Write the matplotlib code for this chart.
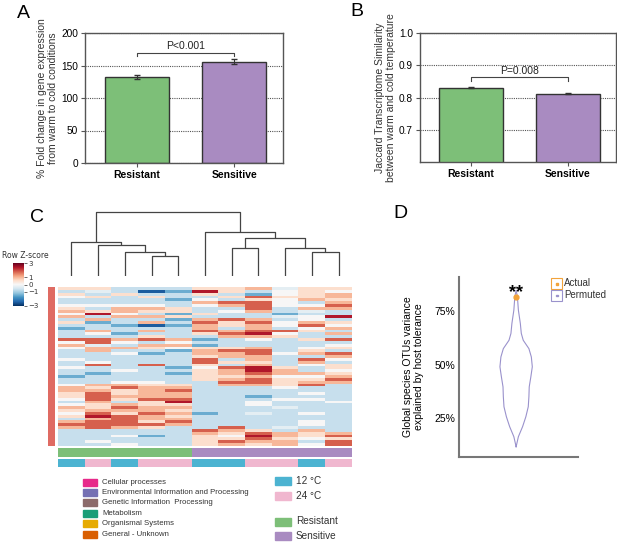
import matplotlib
matplotlib.use('Agg')
import matplotlib.pyplot as plt
from matplotlib.colors import ListedColormap
from matplotlib.patches import Rectangle
import numpy as np

plt.rcParams['font.family'] = ['Liberation Sans', 'DejaVu Sans']

# ---- data ----
groups = ['Resistant', 'Sensitive']
group_colors = ['#7dbf78', '#a98bc1']

# A: % fold change warm -> cold
fold_change = [132, 156]
fold_err = [3, 3.5]

# B: Jaccard similarity
jaccard = [0.830, 0.812]
jaccard_err = [0.002, 0.002]

# C: heatmap (row z-scores), 11 samples, coded per cell
code = {'B': -2.5, 'b': -1.5, 'l': -0.7, 'g': -0.3, 'w': 0.0,
        'p': 0.5, 'P': 1.0, 'r': 1.8, 'R': 2.4}
heat_rows = [
    "pplllppPgpp", "lglBbRplwpw", "plpllplbwpP", "wplpllprppP",
    "llllbwlpwPp", "lllllPrrwlP", "wwwwlwPrwwr", "plPPpllrlPP",
    "PpPpplwPlgl", "wRwlbpllbll", "PlPPplllgwR", "lPllbPrPlwl",
    "pblPlrprwPp", "llbBbPpPwrw", "bllllPlPlwP", "lPlPlrPrrpl",
    "lwbllprRwlP", "lllpllPPpll", "rrPrPblwlpr", "wrwlwllllll",
    "PglPPbllllw", "wPPpwppPlwp", "lPllbPrrlpl", "llwblPPrwPr",
    "lllllpPPllP", "wllllrlPlrw", "lwlllrpplPl", "lrlrlplPlwp",
    "wlllbwrRplp", "llwllpPRPlw", "lbllbpPrPPp", "bllllppPwwP",
    "lllllpPrppr", "llwwllrrpPP", "wPPpplPPprl", "PprPPlllwll",
    "PPpPrllllll", "prpPPllllwl", "prPPPllblll", "wrprrlllwwl",
    "lPlpRllwllw", "wpPppllwlll", "PprPPlllgll", "pPPPpllllll",
    "wrprPblglwl", "pRrPpllllll", "lPrPPllllll", "Prrprllllwl",
    "rrrrPllllwl", "PrPpllrlgll", "lllllrPplPl", "lllllPprPpP",
    "llwblpwRPpr", "lllllpprpwp", "lwlllprPPlr", "llwllpPpPwr",
]
sample_group = [0, 0, 0, 0, 0, 1, 1, 1, 1, 1, 1]
sample_temp = [12, 24, 12, 24, 24, 12, 12, 24, 24, 12, 24]
# dendrogram merges: (left node, right node, height); new nodes numbered from 11
merges = [(3, 4, 20), (2, 11, 24), (1, 12, 31), (0, 13, 34),
          (6, 7, 28), (9, 10, 24), (8, 16, 28), (15, 17, 38),
          (5, 18, 44), (14, 19, 64)]

categories = ['Cellular processes', 'Environmental Information and Processing',
              'Genetic Information  Processing', 'Metabolism',
              'Organismal Systems', 'General - Unknown']
category_colors = ['#e7298a', '#7570b3', '#8c6b6b', '#1b9e77', '#e6ab02', '#d95f02']
temps = [12, 24]
temp_colors = ['#4cb3d1', '#f0b7cf']

# D: permutation violin (value, relative density) and actual value
perm_val = [11.6, 16.3, 21, 25.6, 30.3, 35, 39.6, 44.3, 49, 53.6,
            57.5, 61.4, 64.6, 69.3, 75.5, 81.7, 84.8]
perm_dens = [0, 0.14, 0.40, 0.60, 0.75, 0.79, 0.81, 0.91, 1.0, 0.94,
             0.79, 0.44, 0.32, 0.26, 0.14, 0.08, 0]
actual_val = 81.5

W, H = 617, 542
fig = plt.figure(figsize=(W / 100, H / 100), dpi=100)


def px_axes(x0, y0, x1, y1):
    return fig.add_axes([x0 / W, 1 - y1 / H, (x1 - x0) / W, (y1 - y0) / H])


def bar_panel(ax, vals, errs, ylim, ticks, ylabel, ptext, bracket):
    x = np.arange(len(vals))
    ax.bar(x, vals, width=0.66, color=group_colors, edgecolor='#333333',
           linewidth=1, zorder=2)
    ax.errorbar(x, vals, yerr=errs, fmt='none', ecolor='#333333',
                elinewidth=0.8, capsize=2, zorder=3)
    ax.set_xlim(-0.53, 1.5)
    ax.set_ylim(*ylim)
    ax.set_yticks(ticks)
    ax.set_xticks(x)
    ax.set_xticklabels(groups, fontweight='bold', fontsize=7.5)
    ax.tick_params(axis='y', labelsize=7.3, length=3, color='#555555', pad=2)
    ax.tick_params(axis='x', length=3, color='#555555', pad=2)
    ax.yaxis.grid(True, linestyle=(0, (1, 1)), color='#555555', linewidth=0.8)
    ax.set_axisbelow(True)
    for s in ax.spines.values():
        s.set_color('#555555')
        s.set_linewidth(1)
    ax.set_ylabel(ylabel, fontsize=7.5, color='#333333', labelpad=2)
    top, drop = bracket
    ax.plot([0, 0, 1, 1], [top - drop, top, top, top - drop],
            color='#444444', linewidth=0.8)
    ax.text(0.5, top + drop * 0.4, ptext, ha='center', va='bottom',
            fontsize=7.5, color='#222222')


# ---- A ----
axA = px_axes(85, 33, 283, 163)
bar_panel(axA, fold_change, fold_err, (0, 200), [0, 50, 100, 150, 200],
          '% Fold change in gene expression\nfrom warm to cold conditions',
          'P<0.001', (170, 5))
fig.text(17 / W, 1 - 14 / H, 'A', fontsize=14, va='center', ha='left')

# ---- B ----
axB = px_axes(420, 33, 616, 162)
bar_panel(axB, jaccard, jaccard_err, (0.6, 1.0), [0.7, 0.8, 0.9, 1.0],
          'Jaccard Transcriptome Similarity\nbetween warm and cold temperature',
          'P=0.008', (0.8626, 0.01))
fig.text(350 / W, 1 - 12 / H, 'B', fontsize=14, va='center', ha='left')

# ---- C ----
heat = np.array([[code[c] for c in row] for row in heat_rows])
n_rows, n_cols = heat.shape

axH = px_axes(58, 287, 352, 446)
im = axH.imshow(heat, cmap='RdBu_r', vmin=-3, vmax=3, aspect='auto',
                interpolation='nearest')
axH.set_axis_off()

# dendrogram
axDen = px_axes(58, 205, 352, 276)
pos = {i: float(i) for i in range(n_cols)}
hgt = {i: 0.0 for i in range(n_cols)}
for k, (a, b, h) in enumerate(merges):
    axDen.plot([pos[a], pos[a], pos[b], pos[b]], [hgt[a], h, h, hgt[b]],
               color='#444444', linewidth=0.9, solid_capstyle='butt')
    node = n_cols + k
    pos[node] = (pos[a] + pos[b]) / 2
    hgt[node] = h
axDen.set_xlim(-0.5, n_cols - 0.5)
axDen.set_ylim(0, 71)
axDen.set_axis_off()

# row annotation strip
axS = px_axes(48, 287, 55, 446)
axS.set_facecolor('#df6b63')
axS.set_xticks([])
axS.set_yticks([])
for s in axS.spines.values():
    s.set_visible(False)

# group and temperature column bars
axG = px_axes(58, 448, 352, 457)
axG.imshow([sample_group], cmap=ListedColormap(group_colors), aspect='auto',
           vmin=0, vmax=1, interpolation='nearest')
axG.set_axis_off()
axT = px_axes(58, 459, 352, 467)
axT.imshow([[temps.index(t) for t in sample_temp]],
           cmap=ListedColormap(temp_colors), aspect='auto', vmin=0, vmax=1,
           interpolation='nearest')
axT.set_axis_off()

# colour key
cax = px_axes(13, 263, 24, 306)
cb = fig.colorbar(im, cax=cax, ticks=[3, 1, 0, -1, -3])
cb.outline.set_visible(False)
cax.tick_params(labelsize=5, length=2, width=0.5, pad=1, colors='#333333')
for t in cax.get_yticklabels():
    t.set_family('DejaVu Sans')
fig.text(2 / W, 1 - 256 / H, 'Row Z-score', fontsize=5.5, family='DejaVu Sans',
         va='center', ha='left', color='#333333')
fig.text(30 / W, 1 - 217 / H, 'C', fontsize=14, va='center', ha='left')

# legends under the heatmap
for i, (lab, col) in enumerate(zip(categories, category_colors)):
    yc = 482 + 10.4 * i
    fig.patches.append(Rectangle((83 / W, 1 - (yc + 3.5) / H), 14 / W, 7 / H,
                                 transform=fig.transFigure, color=col))
    fig.text(102 / W, 1 - yc / H, lab, fontsize=5.6, va='center', ha='left',
             color='#333333')
legend2 = [(f'{t} °C', c) for t, c in zip(temps, temp_colors)]
legend2 += list(zip(groups, group_colors))
for i, (lab, col) in enumerate(legend2):
    yc = [481, 496, 521.5, 536][i]
    fig.patches.append(Rectangle((275 / W, 1 - (yc + 4) / H), 16 / W, 8 / H,
                                 transform=fig.transFigure, color=col))
    fig.text(296 / W, 1 - yc / H, lab, fontsize=7.2, va='center', ha='left',
             color='#333333')

# ---- D ----
axD = px_axes(459, 277, 578, 457)
half = 0.136 * np.array(perm_dens)
axD.plot(np.concatenate([1 - half, (1 + half)[::-1]]),
         np.concatenate([perm_val, perm_val[::-1]]),
         color='#9a92cc', linewidth=0.8)
axD.plot([1], [actual_val], 'o', color='#f2a33a', markersize=3.5)
axD.text(1, actual_val - 2.0, '**', ha='center', va='bottom', fontsize=13,
         fontweight='bold')
axD.set_xlim(0.52, 1.52)
axD.set_ylim(6.8, 91)
axD.set_yticks([25, 50, 75])
axD.set_yticklabels(['25%', '50%', '75%'])
axD.set_xticks([])
axD.tick_params(axis='y', labelsize=7.5, length=0, pad=3)
for side in ['top', 'right']:
    axD.spines[side].set_visible(False)
for side in ['left', 'bottom']:
    axD.spines[side].set_color('#777777')
    axD.spines[side].set_linewidth(1.5)
axD.set_ylabel('Global species OTUs variance\nexplained by host tolerance',
               fontsize=7.5, labelpad=7)
for i, (lab, col) in enumerate([('Actual', '#f2a33a'), ('Permuted', '#9a92cc')]):
    y0 = 278 + 11.5 * i
    fig.patches.append(Rectangle((551 / W, 1 - (y0 + 11) / H), 11 / W, 11 / H,
                                 transform=fig.transFigure, facecolor='white',
                                 edgecolor=col, linewidth=0.8))
    fig.patches.append(Rectangle((556 / W, 1 - (y0 + 6.5) / H), 1.5 / W, 1.5 / H,
                                 transform=fig.transFigure, color=col))
    fig.text(564 / W, 1 - (y0 + 5.5) / H, lab, fontsize=7, va='center',
             ha='left', color='#333333')
fig.text(393 / W, 1 - 213 / H, 'D', fontsize=14, va='center', ha='left')

fig.savefig('out.png', dpi=100)
